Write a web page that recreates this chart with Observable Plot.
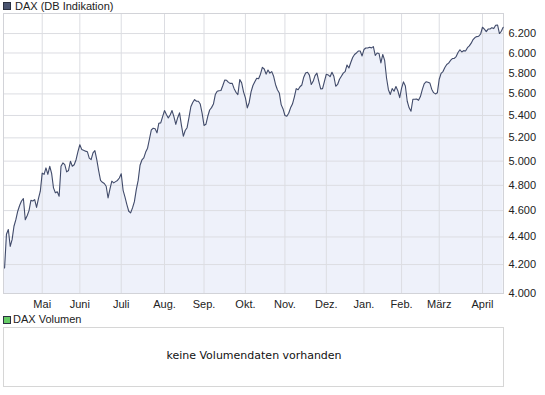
<!DOCTYPE html>
<html>
<head>
<meta charset="utf-8">
<script src="https://cdn.jsdelivr.net/npm/d3@7"></script>
<script src="https://cdn.jsdelivr.net/npm/@observablehq/plot@0.6"></script>
<style>
  html, body { margin: 0; padding: 0; background: #fff; }
  body { width: 545px; height: 395px; position: relative; overflow: hidden;
         font-family: "Liberation Sans", Arial, sans-serif; font-size: 11px; color: #222; }
  #chart { position: absolute; left: 0; top: 0; }
  .legend { position: absolute; left: 3px; height: 13px; line-height: 13px; white-space: nowrap; z-index: 2; }
  .legend .box { position: absolute; left: 0; top: 2px; width: 6px; height: 6px; border: 1px solid #2b3040; }
  .legend .txt { position: absolute; top: 0; }
  #vol { position: absolute; left: 3px; top: 327px; width: 499px; height: 58px; border: 1px solid #d6d6d6; background: #fff; }
  #vol .msg { position: absolute; left: 0; width: 500px; top: 21px; text-align: center;
              font-family: "DejaVu Sans", Verdana, sans-serif; font-size: 11px; color: #111; }
</style>
</head>
<body>
<div class="legend" style="top:0px;"><div class="box" style="background:#4a5470;"></div><div class="txt" style="left:12px;">DAX (DB Indikation)</div></div>
<div id="chart"></div>
<div class="legend" style="top:313px;"><div class="box" style="background:#66cc66;top:3px;"></div><div class="txt" style="left:10px;">DAX Volumen</div></div>
<div id="vol"><div class="msg">keine Volumendaten vorhanden</div></div>
<script>
// DAX closing values, one per trading day (early April 2009 – mid April 2010)
const closes = [
  4176,4420,4456,4330,4380,4480,4530,4595,4640,4675,
  4694,4530,4560,4600,4680,4675,4686,4625,4694,4753,
  4900,4890,4943,4890,4957,4898,4780,4740,4748,4713,
  4957,4985,4970,4910,4922,4999,4957,4970,5012,5080,
  5140,5100,5092,5085,5080,5025,5013,5070,5090,5013,
  4920,4840,4825,4815,4793,4699,4770,4834,4820,4830,
  4840,4860,4895,4760,4705,4647,4595,4582,4621,4670,
  4766,4840,4965,5010,5027,5077,5110,5190,5270,5285,
  5280,5244,5330,5333,5390,5445,5409,5378,5405,5445,
  5390,5320,5380,5424,5310,5214,5265,5290,5380,5480,
  5520,5547,5531,5531,5505,5420,5310,5320,5393,5450,
  5472,5505,5594,5625,5630,5632,5680,5732,5730,5710,
  5700,5700,5650,5615,5594,5737,5705,5620,5562,5470,
  5520,5620,5680,5715,5750,5745,5789,5857,5840,5790,
  5830,5800,5814,5769,5690,5640,5609,5500,5460,5400,
  5393,5420,5470,5505,5570,5650,5640,5668,5685,5760,
  5800,5808,5780,5689,5720,5775,5800,5720,5648,5650,
  5720,5789,5782,5765,5808,5769,5673,5690,5740,5770,
  5800,5815,5880,5850,5905,5955,5985,6000,6020,6020,
  5970,6035,6051,6051,6058,6052,6065,5975,6000,5995,
  5900,5985,5925,5752,5640,5595,5650,5625,5670,5630,
  5565,5655,5715,5675,5531,5470,5439,5550,5550,5552,
  5540,5575,5640,5695,5716,5712,5705,5645,5612,5600,
  5610,5740,5798,5815,5855,5885,5898,5925,5944,5945,
  5964,6005,6033,6010,6024,6020,6054,6072,6100,6137,
  6158,6168,6172,6195,6266,6246,6220,6247,6248,6262,
  6252,6287,6290,6200,6224,6266
];
// month tick labels and the trading-day index where each month starts
const monthLabels = ["Mai","Juni","Juli","Aug.","Sep.","Okt.","Nov.","Dez.","Jan.","Feb.","März","April"];
const monthStart  = [20, 40, 62, 85, 106, 128, 149, 171, 191, 211, 231, 254];
// y axis ticks
const yTicks = [4000,4200,4400,4600,4800,5000,5200,5400,5600,5800,6000,6200];
const yDomain = [4000, 6413];

const de = d3.formatLocale({decimal: ",", thousands: ".", grouping: [3], currency: ["", " €"]});
const fmt = de.format(",");

const data = closes.map((v, i) => ({day: i, close: v}));

const chart = Plot.plot({
  width: 545,
  height: 315,
  marginTop: 13,
  marginBottom: 22,
  marginLeft: 3,
  marginRight: 42,
  style: {fontFamily: "'Liberation Sans', Arial, sans-serif", fontSize: "11px", color: "#222", background: "transparent", overflow: "visible"},
  x: {type: "linear", domain: [-0.57, 265.16], ticks: monthStart,
      tickFormat: d => monthLabels[monthStart.indexOf(d)], tickSize: 0, tickPadding: 7, label: null},
  y: {type: "log", domain: yDomain, ticks: yTicks, tickFormat: fmt,
      tickSize: 0, tickPadding: 5, axis: "right", label: null},
  marks: [
    Plot.areaY(data, {x: "day", y1: yDomain[0], y2: "close", fill: "#eef1fa"}),
    Plot.ruleX(monthStart, {stroke: "#dcdde2"}),
    Plot.ruleY(yTicks, {stroke: "#dcdde2"}),
    Plot.frame({stroke: "#d2d3d8"}),
    Plot.lineY(data, {x: "day", y: "close", stroke: "#414b6a", strokeWidth: 1.1})
  ]
});
document.getElementById("chart").appendChild(chart);
</script>
</body>
</html>
